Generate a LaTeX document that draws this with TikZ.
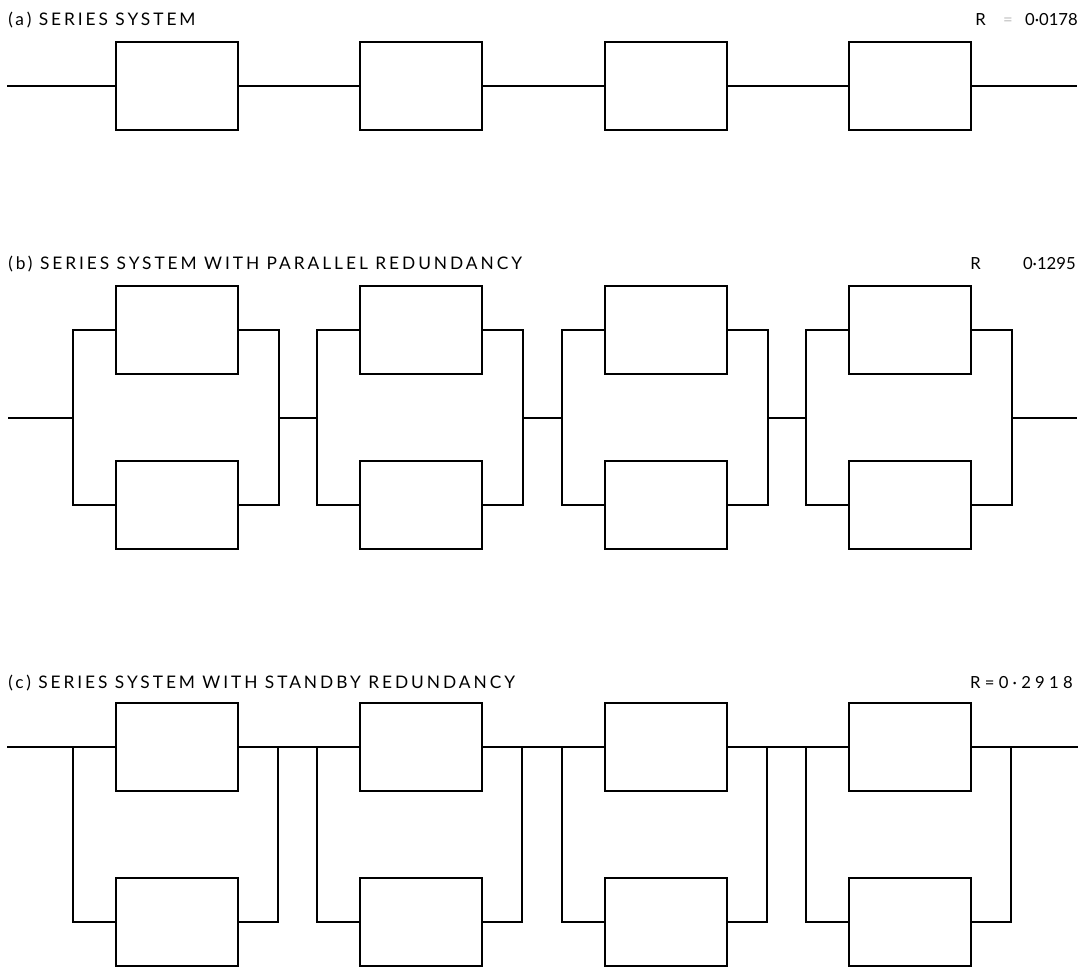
\documentclass[tikz,border=0pt]{standalone}
\usepackage{fontspec}
\setmainfont{Lato}
\begin{document}
\begin{tikzpicture}[x=0.75pt,y=-0.75pt,
  box/.style={draw,line width=1.6pt,minimum width=91.5pt,minimum height=66pt,inner sep=0pt},
  wire/.style={line width=1.35pt},
  lbl/.style={inner sep=0pt,font=\fontsize{13}{15}\selectfont\addfontfeature{LetterSpace=17}},
  val/.style={inner sep=0pt,font=\fontsize{12.5}{14}\selectfont}]
\useasboundingbox (0,0) rectangle (1084,969);
% labels
\node[lbl,anchor=base west] (la) at (8,26) {(a) SERIES SYSTEM};
\node[val,anchor=base west] (raR) at (975,26) {R};
\node[val,anchor=base east] (raV) at (1078,26) {0·0178};
\node[val,anchor=base] (raE) at (1008,26) {\color{black!25}=};
\node[lbl,anchor=base west] (lb) at (8,270) {(b) SERIES SYSTEM WITH PARALLEL REDUNDANCY};
\node[val,anchor=base west] (rbR) at (970,270) {R};
\node[val,anchor=base east] (rbV) at (1076,270) {0·1295};
\node[lbl,anchor=base west] (lc) at (8,688) {(c) SERIES SYSTEM WITH STANDBY REDUNDANCY};
\node[val,anchor=base east] (rc) at (1073,688) {R\hspace{3.2pt}=\hspace{3.2pt}0\hspace{3.2pt}·\hspace{3.2pt}2\hspace{3.2pt}9\hspace{3.2pt}1\hspace{3.2pt}8};
% blocks
\foreach \k in {1,...,4}{
  \pgfmathsetmacro\cx{177+244.3*(\k-1)}
  % (a)
  \node[box] (a\k) at (\cx,86) {};
  % (b)
  \node[box] (bt\k) at (\cx,330) {};
  \node[box] (bb\k) at (\cx,505) {};
  \coordinate (bL\k) at ({\cx-104},418);
  \coordinate (bR\k) at ({\cx+102},418);
  \draw[wire] (bt\k.west) -| (bL\k) |- (bb\k.west);
  \draw[wire] (bt\k.east) -| (bR\k) |- (bb\k.east);
  % (c)
  \node[box] (ct\k) at (\cx,747) {};
  \node[box] (cb\k) at (\cx,922) {};
  \coordinate (cL\k) at ({\cx-104},747);
  \coordinate (cR\k) at ({\cx+101},747);
  \draw[wire] (cL\k) |- (cb\k.west);
  \draw[wire] (cR\k) |- (cb\k.east);
}
% free ends
\coordinate (ain) at (7,86);   \coordinate (aout) at (1077,86);
\coordinate (bin) at (8,418);  \coordinate (bout) at (1077,418);
\coordinate (cin) at (7,747);  \coordinate (cout) at (1078,747);
% series connections
\draw[wire] (ain) -- (a1.west);
\draw[wire] (a4.east) -- (aout);
\draw[wire] (bin) -- (bL1);
\draw[wire] (bR4) -- (bout);
\draw[wire] (cin) -- (ct1.west);
\draw[wire] (ct4.east) -- (cout);
\foreach \k/\n in {1/2,2/3,3/4}{
  \draw[wire] (a\k.east) -- (a\n.west);
  \draw[wire] (bR\k) -- (bL\n);
  \draw[wire] (ct\k.east) -- (ct\n.west);
}
\end{tikzpicture}
\end{document}
